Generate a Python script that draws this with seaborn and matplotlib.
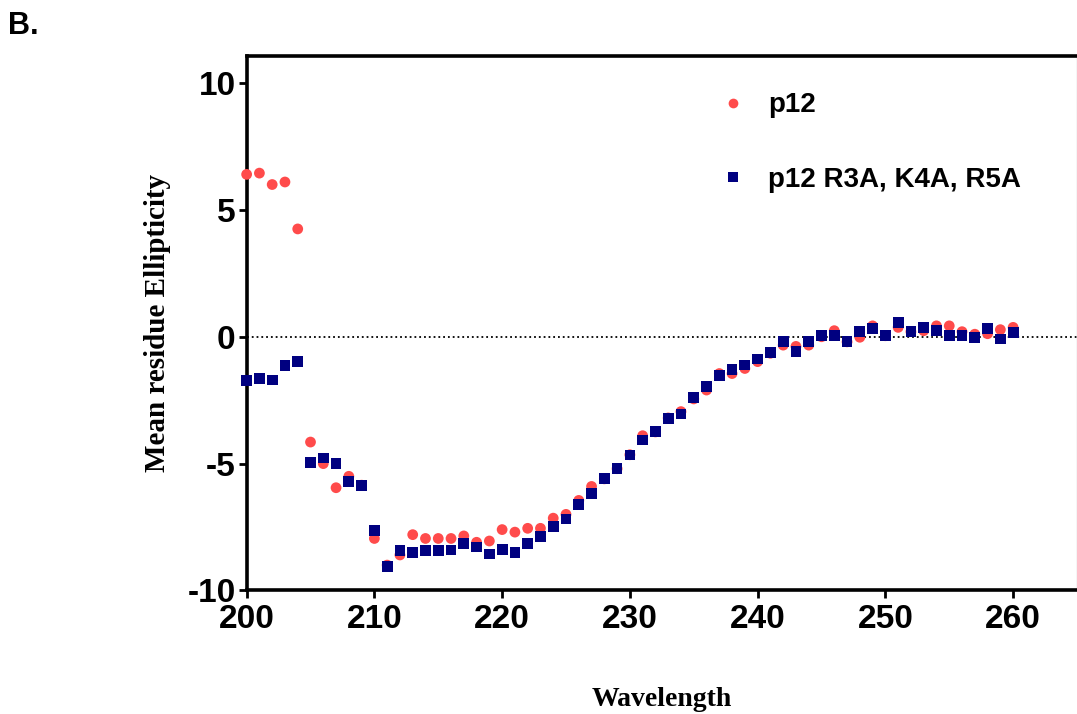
import numpy as np
import pandas as pd
import matplotlib
matplotlib.use("Agg")
import matplotlib.pyplot as plt
from matplotlib.lines import Line2D
import seaborn as sns

# ===== data =====
wavelength = list(range(200, 261))

p12 = [6.4, 6.45, 6.0, 6.1, 4.25, -4.15, -5.0, -5.95, -5.5, -5.85,
       -7.95, -9.0, -8.6, -7.8, -7.95, -7.95, -7.95, -7.85, -8.1, -8.05,
       -7.6, -7.7, -7.55, -7.55, -7.15, -7.0, -6.45, -5.9, -5.6, -5.2,
       -4.65, -3.9, -3.75, -3.2, -2.95, -2.45, -2.1, -1.45, -1.45, -1.25,
       -0.98, -0.65, -0.33, -0.38, -0.33, 0.0, 0.24, -0.2, -0.02, 0.43,
       0.04, 0.37, 0.2, 0.24, 0.43, 0.43, 0.2, 0.1, 0.12, 0.28, 0.37]

p12_mut = [-1.73, -1.64, -1.70, -1.14, -0.97, -4.95, -4.78, -5.01, -5.70, -5.87,
           -7.64, -9.06, -8.42, -8.49, -8.43, -8.43, -8.40, -8.14, -8.29, -8.56,
           -8.39, -8.49, -8.14, -7.87, -7.47, -7.18, -6.61, -6.17, -5.60, -5.18,
           -4.66, -4.07, -3.74, -3.21, -3.04, -2.39, -1.97, -1.54, -1.30, -1.11,
           -0.88, -0.61, -0.20, -0.59, -0.20, 0.04, 0.06, -0.20, 0.21, 0.33,
           0.04, 0.57, 0.21, 0.37, 0.24, 0.04, 0.06, -0.02, 0.33, -0.09, 0.17]

labels = ["p12", "p12 R3A, K4A, R5A"]
x_ticks = [200, 210, 220, 230, 240, 250, 260]
y_ticks = [-10, -5, 0, 5, 10]

RED = "#FF4B4B"
NAVY = "#000080"

df = pd.concat([
    pd.DataFrame({"Wavelength": wavelength, "MRE": p12, "construct": labels[0]}),
    pd.DataFrame({"Wavelength": wavelength, "MRE": p12_mut, "construct": labels[1]}),
])

sns.set_style("ticks")
plt.rcParams["font.family"] = ["Liberation Sans", "DejaVu Sans"]
plt.rcParams["axes.unicode_minus"] = False
plt.rcParams["text.color"] = "black"
plt.rcParams["axes.labelcolor"] = "black"
plt.rcParams["xtick.color"] = "black"
plt.rcParams["ytick.color"] = "black"

fig = plt.figure(figsize=(10.77, 7.14), dpi=100)
ax = fig.add_axes([0.229, 0.173, 0.771, 0.748])

ax.axhline(0, color="black", ls=":", lw=1.3, zorder=1)

sns.scatterplot(data=df, x="Wavelength", y="MRE", hue="construct", style="construct",
                palette={labels[0]: RED, labels[1]: NAVY},
                markers={labels[0]: "o", labels[1]: "s"},
                s=60, linewidth=0, legend=False, clip_on=False, zorder=3, ax=ax)

ax.set_xlim(200, 265)
ax.set_ylim(-10, 11.05)
ax.set_xticks(x_ticks)
ax.set_yticks(y_ticks)

for side in ["left", "bottom", "top"]:
    ax.spines[side].set_linewidth(2.6)
    ax.spines[side].set_color("black")
ax.spines["right"].set_linewidth(1)
ax.spines["right"].set_color("#d0d0d0")

ax.tick_params(axis="both", direction="out", length=6, width=2, color="black",
               labelcolor="black", labelsize=24, pad=2)
for t in ax.get_xticklabels() + ax.get_yticklabels():
    t.set_fontweight("bold")
ax.tick_params(axis="x", pad=4)

ax.set_xlabel("Wavelength", family=["Liberation Serif"], fontweight="bold",
              fontsize=20, labelpad=37)
ax.set_ylabel("Mean residue Ellipticity", family=["Liberation Serif"], fontweight="bold",
              fontsize=21, labelpad=12)

handles = [
    Line2D([], [], ls="none", marker="o", color=RED, markersize=7, markeredgewidth=0),
    Line2D([], [], ls="none", marker="s", color=NAVY, markersize=6.5, markeredgewidth=0),
]
leg = ax.legend(handles, labels, loc="upper left", bbox_to_anchor=(0.655, 0.89),
                bbox_transform=fig.transFigure, frameon=False, handlelength=1.0,
                handletextpad=0.75, labelspacing=1.75, borderpad=0,
                prop={"weight": "bold", "size": 20})

fig.text(0.007, 0.952, "B.", fontsize=22, fontweight="bold", ha="left", va="baseline")

fig.savefig("out.png", dpi=100)
